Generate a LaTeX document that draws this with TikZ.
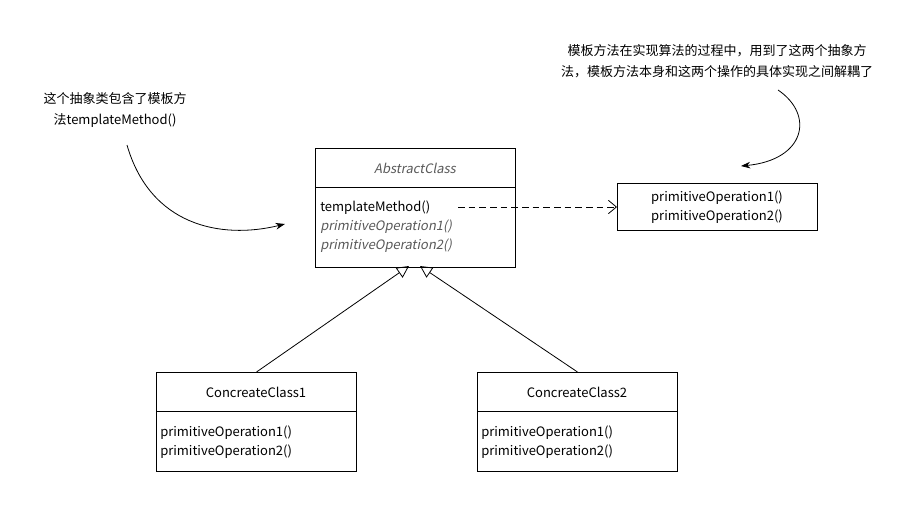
\documentclass[tikz,border=0pt]{standalone}
\usepackage{fontspec}
\setmainfont{Noto Sans CJK SC}[AutoFakeSlant=0.2]
\usetikzlibrary{arrows.meta}
\tikzset{
  cls/.style={draw=black, line width=0.75pt, minimum width=200*0.75pt, inner sep=0pt, anchor=north west},
  txt/.style={inner sep=0pt, font=\fontsize{9.75pt}{14.25pt}\selectfont, text=black},
  itxt/.style={txt, font=\fontsize{9.75pt}{14.25pt}\selectfont\itshape, text=black!65},
  note/.style={inner sep=0pt, font=\fontsize{9.75pt}{15.5pt}\selectfont, align=center},
  inherit/.style={draw=black, line width=0.6pt, -{Triangle[open, length=9pt, width=9pt]}},
  dep/.style={draw=black, line width=0.6pt, dash pattern=on 5pt off 3pt, -{Straight Barb[length=6pt, width=10pt]}},
  curv/.style={draw=black, line width=0.6pt, -{Stealth[length=7pt, width=5pt]}},
}
\begin{document}
\begin{tikzpicture}[x=0.75pt, y=-0.75pt]
\useasboundingbox (0,0) rectangle (918,510);
% Abstract class
\node[cls, minimum height=119*0.75pt] (abs) at (315,148) {};
\draw[line width=0.75pt] (315,187) -- (515,187);
\node[itxt] (absT) at (415,168) {AbstractClass};
\node[txt, anchor=west] (m1) at (320,208) {templateMethod()};
\node[itxt, anchor=west] (m2) at (320,227) {primitiveOperation1()};
\node[itxt, anchor=west] (m3) at (320,246) {primitiveOperation2()};
% right box
\node[cls, minimum height=47*0.75pt] (ops) at (617,183) {};
\node[txt, align=center] (opsT) at (717,207) {primitiveOperation1()\\primitiveOperation2()};
% concrete 1
\node[cls, minimum height=99*0.75pt] (c1) at (156,372) {};
\draw[line width=0.75pt] (156,411) -- (356,411);
\node[txt] (c1T) at (256,392) {ConcreateClass1};
\node[txt, anchor=west] (c1a) at (160,433) {primitiveOperation1()};
\node[txt, anchor=west] (c1b) at (160,452) {primitiveOperation2()};
% concrete 2
\node[cls, minimum height=99*0.75pt] (c2) at (477,372) {};
\draw[line width=0.75pt] (477,411) -- (677,411);
\node[txt] (c2T) at (577,392) {ConcreateClass2};
\node[txt, anchor=west] (c2a) at (481,433) {primitiveOperation1()};
\node[txt, anchor=west] (c2b) at (481,452) {primitiveOperation2()};
% connectors
\coordinate (tipL) at (409,266);
\coordinate (tipR) at (420,266);
\draw[inherit] (c1.north) -- (tipL);
\draw[inherit] (c2.north) -- (tipR);
\coordinate (depS) at (458,207);
\draw[dep] (depS) -- (ops.west |- depS);
% notes
\node[note] (n1) at (115,110) {这个抽象类包含了模板方\\法templateMethod()};
\node[note] (n2) at (717,61) {模板方法在实现算法的过程中，用到了这两个抽象方\\法，模板方法本身和这两个操作的具体实现之间解耦了};
\coordinate (a1s) at (127,145);
\coordinate (a1e) at (285,224);
\draw[curv] (a1s) .. controls (150,225) and (220,240) .. (a1e);
\coordinate (a2s) at (778,90);
\coordinate (a2e) at (741,166);
\draw[curv] (a2s) .. controls (815,115) and (805,160) .. (a2e);
\end{tikzpicture}
\end{document}
